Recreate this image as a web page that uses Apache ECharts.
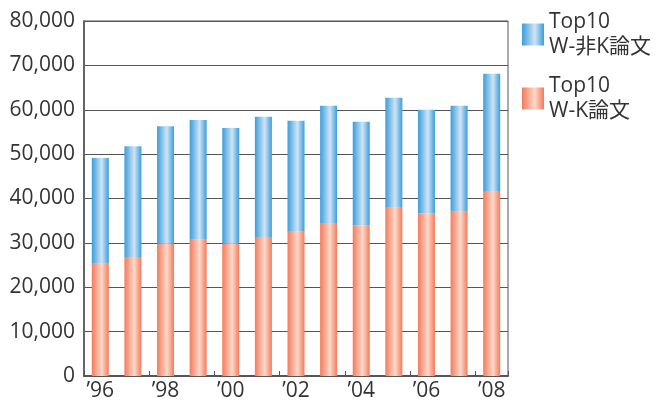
<!DOCTYPE html>
<html>
<head>
<meta charset="utf-8">
<script src="https://cdn.jsdelivr.net/npm/echarts@6/dist/echarts.min.js"></script>
<style>
  html, body { margin: 0; padding: 0; background: #fff; }
  #main { width: 658px; height: 405px; }
</style>
</head>
<body>
<div id="main"></div>
<script>
// 年度
var years = ['’96', '’97', '’98', '’99', '’00', '’01', '’02', '’03', '’04', '’05', '’06', '’07', '’08'];
// Top10 W-K論文
var wkPapers = [25300, 26800, 29800, 30700, 29800, 31300, 32500, 34500, 33900, 37900, 36600, 37000, 41700];
// 合計 (Top10 W-K + W-非K)
var totals = [49100, 51800, 56300, 57700, 55900, 58400, 57500, 60900, 57300, 62700, 60000, 60900, 68100];
var nonWkPapers = totals.map(function (t, i) { return t - wkPapers[i]; });

var nameNonK = 'Top10\nW-非K論文';
var nameK = 'Top10\nW-K論文';

var font = '"Open Sans", "Noto Sans CJK JP", sans-serif';

function barGrad(edge, mid) {
  return new echarts.graphic.LinearGradient(0, 0, 1, 0, [
    { offset: 0, color: edge },
    { offset: 0.58, color: mid },
    { offset: 1, color: edge }
  ]);
}

var chart = echarts.init(document.getElementById('main'));

var legendText = {
  fontFamily: font,
  fontSize: 21,
  color: '#333',
  lineHeight: 25,
  padding: [25, 0, 0, 0]
};

var option = {
  animation: false,
  grid: {
    left: 84, right: 150, top: 21, bottom: 29,
    show: true, borderColor: '#555', borderWidth: 1
  },
  legend: [
    {
      data: [nameNonK], left: 522, top: -3, orient: 'vertical', padding: 0,
      icon: 'rect', itemWidth: 22, itemHeight: 22,
      textStyle: legendText, selectedMode: false
    },
    {
      data: [nameK], left: 522, top: 61, orient: 'vertical', padding: 0,
      icon: 'rect', itemWidth: 22, itemHeight: 22,
      textStyle: legendText, selectedMode: false
    }
  ],
  xAxis: {
    type: 'category',
    data: years,
    axisLine: { lineStyle: { color: '#555', width: 2 } },
    axisTick: { show: true, inside: true, length: 5, lineStyle: { color: '#555' } },
    axisLabel: {
      interval: 1, fontFamily: font, fontSize: 21, color: '#333', margin: 5
    }
  },
  yAxis: {
    type: 'value',
    min: 0, max: 80000, interval: 10000,
    axisLine: { show: true, lineStyle: { color: '#666', width: 2 } },
    axisTick: { show: false },
    splitLine: { lineStyle: { color: '#555', width: 1 } },
    axisLabel: {
      fontFamily: font, fontSize: 21, color: '#333', margin: 9,
      formatter: function (v) { return v.toLocaleString('en-US'); }
    }
  },
  series: [
    {
      name: nameK,
      type: 'bar',
      stack: 'total',
      barWidth: 17,
      data: wkPapers,
      itemStyle: { color: barGrad('#f47a5c', '#fdd9c9') }
    },
    {
      name: nameNonK,
      type: 'bar',
      stack: 'total',
      barWidth: 17,
      data: nonWkPapers,
      itemStyle: { color: barGrad('#3a9edb', '#d0e4f6') }
    }
  ]
};

chart.setOption(option);
</script>
</body>
</html>
